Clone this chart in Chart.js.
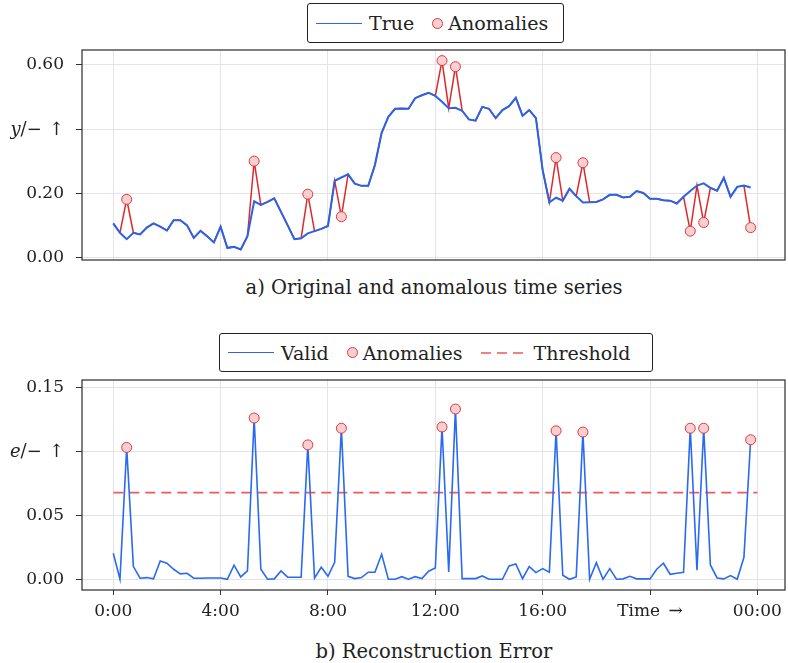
<!DOCTYPE html>
<html>
  <head>
    <meta charset="utf-8">
    <title>Anomaly detection</title>
    <script src="https://cdn.jsdelivr.net/npm/chart.js@4.4.1/dist/chart.umd.min.js"></script>
    <style>
      body { margin: 0; background: #fff; font-family: "DejaVu Serif", serif; color: #222; overflow: hidden; }
      #page { position: relative; width: 788px; height: 663px; overflow: hidden; }
      canvas { position: absolute; left: 0; }
      .legend { position: absolute; border: 1px solid #222; border-radius: 3px; display: flex; align-items: center; font-size: 19px; box-sizing: border-box; padding-left: 8px; }
      .ln { display: inline-block; width: 46px; height: 0; border-top: 1.5px solid #2f66e8; margin-right: 7px; }
      .dot { display: inline-block; width: 9px; height: 9px; border-radius: 50%; background: #f9cfd1; border: 1px solid #e0383a; margin-right: 5px; }
      .gap { display: inline-block; width: 18px; }
      .cap { position: absolute; left: 82px; width: 704px; text-align: center; font-size: 19.5px; }
      .ylab { position: absolute; left: 0; width: 64px; text-align: right; font-size: 18px; line-height: 20px; }
    </style>
  </head>
  <body>
    <div id="page">
      <div class="legend" style="left:307px; top:3px; width:257px; height:40px;">
        <span class="ln"></span>True<span class="gap"></span><span class="dot"></span>Anomalies
      </div>
      <canvas id="chartA" width="791" height="230" style="top:40px;"></canvas>
      <div class="ylab" style="top:119px;"><i>y</i>/−&#8201;&#8201;↑</div>
      <div class="cap" style="top:276px;">a) Original and anomalous time series</div>

      <div class="legend" style="left:219px; top:333px; width:434px; height:39px;">
        <span class="ln"></span>Valid<span class="gap"></span><span class="dot"></span>Anomalies<span class="gap"></span>
        <svg width="46" height="4" style="margin-right:7px"><line x1="0" y1="2" x2="46" y2="2" stroke="#f05a5a" stroke-width="1.5" stroke-dasharray="10 6"/></svg>Threshold
      </div>
      <canvas id="chartB" width="791" height="260" style="top:370px;"></canvas>
      <div class="ylab" style="top:441px;"><i>e</i>/−&#8201;&#8201;↑</div>
      <div class="cap" style="top:640px;">b) Reconstruction Error</div>
    </div>

    <script type="text/javascript">
      // 15 min samples, index 0 = 0:00, 4 samples per hour
      var tickHours = [0, 4, 8, 12, 16, 20, 24];
      var tickLabels = ['0:00', '4:00', '8:00', '12:00', '16:00', 'Time\u2002→', '00:00'];

      var trueVals = [
        0.106, 0.077, 0.057, 0.077, 0.072, 0.093, 0.106, 0.096, 0.084, 0.116, 0.116, 0.100,
        0.061, 0.083, 0.066, 0.047, 0.096, 0.030, 0.033, 0.025, 0.066, 0.175, 0.164, 0.173,
        0.184, 0.142, 0.100, 0.057, 0.060, 0.075, 0.082, 0.089, 0.098, 0.239, 0.249, 0.259,
        0.230, 0.223, 0.223, 0.288, 0.388, 0.438, 0.463, 0.464, 0.463, 0.496, 0.505, 0.513,
        0.503, 0.485, 0.465, 0.466, 0.457, 0.430, 0.426, 0.469, 0.463, 0.434, 0.459, 0.471,
        0.497, 0.441, 0.459, 0.434, 0.272, 0.172, 0.186, 0.177, 0.214, 0.191, 0.171, 0.172,
        0.173, 0.181, 0.195, 0.195, 0.187, 0.189, 0.207, 0.201, 0.183, 0.183, 0.178, 0.177,
        0.168, 0.189, 0.207, 0.224, 0.231, 0.217, 0.208, 0.248, 0.189, 0.220, 0.224, 0.218
      ];

      var anomIdx = [2, 21, 29, 34, 49, 51, 66, 70, 86, 88, 95];
      var anomVals = [0.181, 0.300, 0.197, 0.127, 0.613, 0.594, 0.311, 0.295, 0.082, 0.109, 0.093];

      var errVals = [
        0.0203, 0.0000, 0.1030, 0.0099, 0.0008, 0.0013, 0.0003, 0.0143, 0.0125, 0.0078, 0.0042, 0.0047,
        0.0008, 0.0008, 0.0010, 0.0010, 0.0010, 0.0000, 0.0110, 0.0018, 0.0065, 0.1260, 0.0078, 0.0000,
        0.0003, 0.0065, 0.0016, 0.0016, 0.0016, 0.1050, 0.0008, 0.0094, 0.0023, 0.0133, 0.1180, 0.0023,
        0.0005, 0.0013, 0.0055, 0.0055, 0.0195, 0.0000, 0.0000, 0.0020, 0.0000, 0.0020, 0.0005, 0.0063,
        0.0088, 0.1190, 0.0057, 0.1330, 0.0005, 0.0005, 0.0005, 0.0026, 0.0000, 0.0000, 0.0000, 0.0104,
        0.0120, 0.0005, 0.0099, 0.0052, 0.0083, 0.0055, 0.1160, 0.0031, 0.0000, 0.0018, 0.1150, 0.0000,
        0.0130, 0.0000, 0.0083, 0.0000, 0.0003, 0.0023, 0.0003, 0.0003, 0.0003, 0.0078, 0.0125, 0.0039,
        0.0047, 0.0055, 0.1180, 0.0070, 0.1180, 0.0112, 0.0010, 0.0003, 0.0029, 0.0000, 0.0172, 0.1090
      ];
      var threshold = 0.0677;

      var BLUE = '#2a63e6';
      var RED = '#e0282c';

      // anomalous series = true series with anomalies swapped in
      var anomSeries = trueVals.slice();
      anomIdx.forEach(function (k, j) { anomSeries[k] = anomVals[j]; });

      function pts(arr) { return arr.map(function (v, i) { return { x: i, y: v }; }); }

      var frame = {
        id: 'frame',
        afterDraw: function (chart) {
          var a = chart.chartArea, ctx = chart.ctx;
          ctx.save();
          ctx.strokeStyle = '#2b2b2b';
          ctx.lineWidth = 1.2;
          ctx.strokeRect(a.left, a.top, a.right - a.left, a.bottom - a.top);
          ctx.restore();
        }
      };

      function xScale(showLabels) {
        return {
          type: 'linear',
          min: -4.66,
          max: 100.12,
          afterBuildTicks: function (s) { s.ticks = tickHours.map(function (h) { return { value: h * 4 }; }); },
          afterFit: function (s) {
            s.height = showLabels ? 40 : 10;
            s.paddingLeft = 0; s.paddingRight = 0;
          },
          grid: { color: '#e4e4e8', drawTicks: showLabels, tickLength: 5, tickColor: '#333' },
          border: { display: false },
          ticks: {
            display: showLabels,
            padding: 6,
            color: '#222',
            font: { family: 'DejaVu Serif', size: 17 },
            callback: function (v) { return tickLabels[tickHours.indexOf(v / 4)]; }
          }
        };
      }

      function yScale(min, max, ticks, hide, digits) {
        return {
          min: min,
          max: max,
          afterBuildTicks: function (s) { s.ticks = ticks.map(function (v) { return { value: v }; }); },
          afterFit: function (s) {
            s.width = 82;
            s.paddingTop = 0; s.paddingBottom = 0;
          },
          grid: { color: '#e4e4e8', tickLength: 6, tickColor: '#333' },
          border: { display: false },
          ticks: {
            padding: 12,
            color: '#222',
            font: { family: 'DejaVu Serif', size: 17 },
            callback: function (v) { return Math.abs(v - hide) < 1e-9 ? '' : v.toFixed(digits); }
          }
        };
      }

      var ctxA = document.getElementById('chartA').getContext('2d');
      var chartA = new Chart(ctxA, {
        type: 'line',
        data: {
          datasets: [{
            label: 'Anomalies',
            data: anomIdx.map(function (k, j) { return { x: k, y: anomVals[j] }; }),
            showLine: false,
            pointRadius: 5,
            pointBackgroundColor: '#f9cfd1',
            pointBorderColor: '#e0383a',
            pointBorderWidth: 1,
            order: 0
          }, {
            label: 'True',
            data: pts(trueVals),
            borderColor: BLUE,
            borderWidth: 2,
            pointRadius: 0,
            order: 1
          }, {
            label: 'Anomalous',
            data: pts(anomSeries),
            borderColor: RED,
            borderWidth: 1.5,
            pointRadius: 0,
            order: 2
          }]
        },
        options: {
          responsive: false,
          animation: false,
          layout: { padding: { top: 10, right: 0, left: 0, bottom: 0 } },
          plugins: { legend: { display: false }, tooltip: { enabled: false } },
          scales: {
            x: xScale(false),
            y: yScale(-0.0078, 0.646, [0, 0.2, 0.4, 0.6], 0.4, 2)
          }
        },
        plugins: [frame]
      });

      var ctxB = document.getElementById('chartB').getContext('2d');
      var chartB = new Chart(ctxB, {
        type: 'line',
        data: {
          datasets: [{
            label: 'Anomalies',
            data: anomIdx.map(function (k) { return { x: k, y: errVals[k] }; }),
            showLine: false,
            pointRadius: 5,
            pointBackgroundColor: '#f9cfd1',
            pointBorderColor: '#e0383a',
            pointBorderWidth: 1,
            order: 0
          }, {
            label: 'Valid',
            data: pts(errVals),
            borderColor: '#2a6af0',
            borderWidth: 1.6,
            pointRadius: 0,
            order: 1
          }, {
            label: 'Threshold',
            data: [{ x: 0, y: threshold }, { x: 96, y: threshold }],
            borderColor: '#f05a5a',
            borderWidth: 1.6,
            borderDash: [10, 6],
            pointRadius: 0,
            order: 2
          }]
        },
        options: {
          responsive: false,
          animation: false,
          layout: { padding: { top: 10, right: 0, left: 0, bottom: 0 } },
          plugins: { legend: { display: false }, tooltip: { enabled: false } },
          scales: {
            x: xScale(true),
            y: yScale(-0.0084, 0.1557, [0, 0.05, 0.1, 0.15], 0.1, 2)
          }
        },
        plugins: [frame]
      });
    </script>
  </body>
</html>
